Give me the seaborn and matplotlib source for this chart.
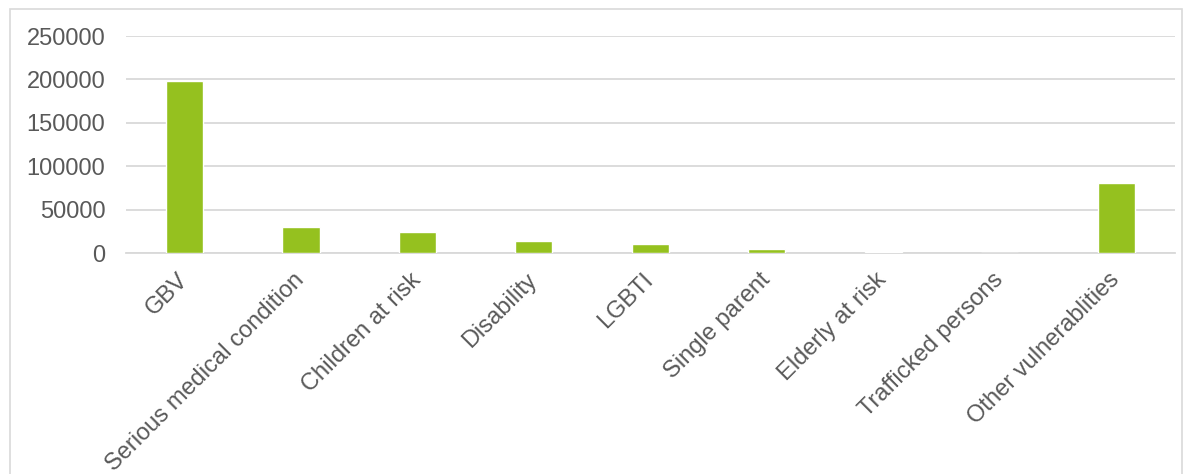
import matplotlib
matplotlib.use("Agg")
import matplotlib.pyplot as plt
import seaborn as sns
import pandas as pd
from matplotlib.patches import Rectangle

# Data
categories = ["GBV", "Serious medical condition", "Children at risk", "Disability",
              "LGBTI", "Single parent", "Elderly at risk", "Trafficked persons",
              "Other vulnerablities"]
values = [198000, 30500, 24000, 14300, 11000, 4300, 1200, 300, 80500]
y_ticks = [0, 50000, 100000, 150000, 200000, 250000]

data = pd.DataFrame({"Category": categories, "Count": values})

sns.set_theme(style="white")
plt.rcParams["font.family"] = ["Liberation Sans", "DejaVu Sans"]

fig = plt.figure(figsize=(11.9, 4.74), dpi=100)
ax = fig.add_axes([0.106, 0.466, 0.881, 0.458])

sns.barplot(data=data, x="Category", y="Count", color="#95C11F",
            width=0.32, saturation=1, ax=ax, zorder=3)

ax.set_ylim(0, 250000)
ax.set_yticks(y_ticks)
ax.set_yticklabels([str(t) for t in y_ticks])
ax.yaxis.grid(True, color="#D9D9D9", linewidth=1.3, zorder=0)
ax.set_axisbelow(True)
for side in ["left", "right", "top"]:
    ax.spines[side].set_visible(False)
ax.spines["bottom"].set_color("#D9D9D9")
ax.spines["bottom"].set_linewidth(1.3)
ax.tick_params(axis="both", length=0, colors="#595959", labelsize=17)
ax.tick_params(axis="y", pad=15)
ax.tick_params(axis="x", pad=17)
ax.set_xlabel("")
ax.set_ylabel("")
plt.setp(ax.get_xticklabels(), rotation=45, ha="right", va="center",
         rotation_mode="anchor")

# Outer chart frame
fig.patches.append(Rectangle((0.008, -0.01), 0.985, 0.99, transform=fig.transFigure,
                             fill=False, edgecolor="#D9D9D9", linewidth=1.2))

fig.savefig("out.png", dpi=100)
